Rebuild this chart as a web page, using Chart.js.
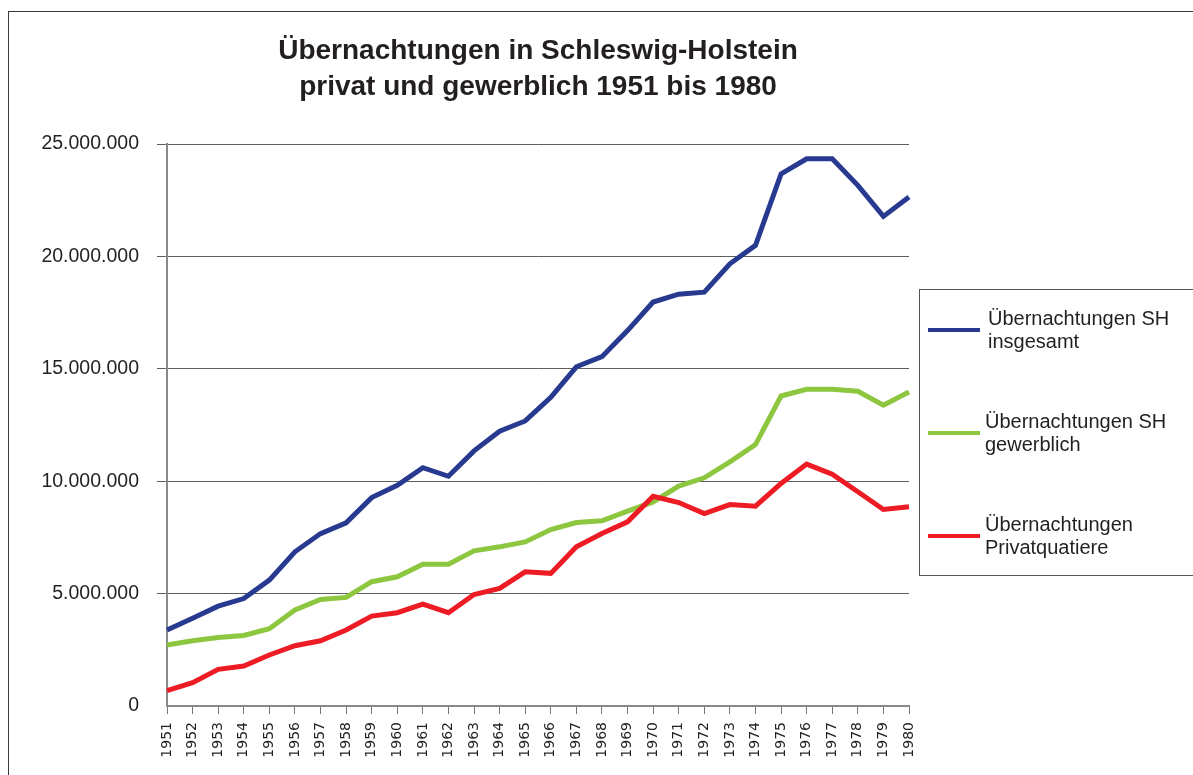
<!DOCTYPE html>
<html>
<head>
<meta charset="utf-8">
<script src="https://cdn.jsdelivr.net/npm/chart.js@4.4.0/dist/chart.umd.min.js"></script>
<style>
  html, body { margin: 0; padding: 0; background: #fff; }
  #wrap { width: 1193px; height: 775px; position: relative; }
</style>
</head>
<body>
<div id="wrap"><canvas id="uebernachtungChart" width="1193" height="775"></canvas></div>
<script>
const years = ['1951','1952','1953','1954','1955','1956','1957','1958','1959','1960',
  '1961','1962','1963','1964','1965','1966','1967','1968','1969','1970',
  '1971','1972','1973','1974','1975','1976','1977','1978','1979','1980'];

const insgesamt = [3380000, 3900000, 4440000, 4780000, 5600000, 6860000, 7670000, 8150000, 9270000, 9820000,
  10600000, 10220000, 11350000, 12220000, 12680000, 13730000, 15090000, 15540000, 16700000, 17970000,
  18320000, 18410000, 19670000, 20490000, 23670000, 24340000, 24340000, 23160000, 21780000, 22640000];

const gewerblich = [2710000, 2900000, 3050000, 3140000, 3440000, 4270000, 4740000, 4830000, 5530000, 5750000,
  6310000, 6310000, 6900000, 7080000, 7300000, 7850000, 8160000, 8240000, 8670000, 9080000,
  9780000, 10150000, 10860000, 11630000, 13790000, 14090000, 14090000, 14000000, 13380000, 13970000];

const privat = [680000, 1040000, 1630000, 1780000, 2270000, 2680000, 2900000, 3380000, 4000000, 4150000,
  4530000, 4150000, 4960000, 5230000, 5970000, 5900000, 7080000, 7670000, 8190000, 9330000,
  9050000, 8560000, 8960000, 8890000, 9900000, 10760000, 10310000, 9530000, 8740000, 8860000];

const seriesLabels = [
  ['Übernachtungen SH', 'insgesamt'],
  ['Übernachtungen SH', 'gewerblich'],
  ['Übernachtungen', 'Privatquatiere']
];
const titleLines = ['Übernachtungen in Schleswig-Holstein', 'privat und gewerblich 1951 bis 1980'];
const yTicks = [0, 5000000, 10000000, 15000000, 20000000, 25000000];

const textColor = '#231f20';
const arial = "'Liberation Sans', Arial, sans-serif";

function formatDE(v){
  return v.toString().replace(/\B(?=(\d{3})+(?!\d))/g, '.');
}

// frame around the whole graphic + white background
const framePlugin = {
  id: 'frame',
  beforeDraw(chart){
    const ctx = chart.ctx;
    ctx.save();
    ctx.fillStyle = '#fff';
    ctx.fillRect(0, 0, chart.width, chart.height);
    ctx.strokeStyle = '#3a3a3a';
    ctx.lineWidth = 1;
    ctx.strokeRect(8.5, 11.5, chart.width + 50, chart.height + 50);
    ctx.restore();
  }
};

// boxed legend on the right, two text lines per entry
const boxLegend = {
  id: 'boxLegend',
  afterDraw(chart){
    const ctx = chart.ctx;
    ctx.save();
    ctx.strokeStyle = '#555';
    ctx.lineWidth = 1;
    ctx.strokeRect(919.5, 289.5, 400, 286);
    ctx.font = '20px ' + arial;
    ctx.fillStyle = textColor;
    ctx.textBaseline = 'middle';
    ctx.textAlign = 'left';
    chart.data.datasets.forEach((ds, i) => {
      const y = 330 + i * 103;
      ctx.strokeStyle = ds.borderColor;
      ctx.lineWidth = 4;
      ctx.beginPath();
      ctx.moveTo(928, y);
      ctx.lineTo(980, y);
      ctx.stroke();
      const lines = ds.legendLines;
      const tx = i === 0 ? 988 : 985;
      ctx.fillText(lines[0], tx, y - 11);
      ctx.fillText(lines[1], tx, y + 12);
    });
    ctx.restore();
  }
};

const ctx = document.getElementById('uebernachtungChart').getContext('2d');
const chart = new Chart(ctx, {
  type: 'line',
  data: {
    labels: years,
    datasets: [
      { label: seriesLabels[0].join(' '), legendLines: seriesLabels[0], data: insgesamt,
        borderColor: '#283a90', borderWidth: 5, pointRadius: 0, fill: false, tension: 0, order: 0 },
      { label: seriesLabels[1].join(' '), legendLines: seriesLabels[1], data: gewerblich,
        borderColor: '#8dc63f', borderWidth: 5, pointRadius: 0, fill: false, tension: 0, order: 2 },
      { label: seriesLabels[2].join(' '), legendLines: seriesLabels[2], data: privat,
        borderColor: '#ed1c24', borderWidth: 5, pointRadius: 0, fill: false, tension: 0, order: 1 }
    ]
  },
  options: {
    responsive: false,
    animation: false,
    devicePixelRatio: 1,
    layout: { padding: { left: 0, right: 284, top: 0, bottom: 0 } },
    plugins: {
      legend: { display: false },
      tooltip: { enabled: false },
      title: {
        display: true,
        fullSize: false,
        text: titleLines,
        color: textColor,
        font: { family: arial, size: 28, weight: 'bold', lineHeight: 36 / 28 },
        padding: { top: 33, bottom: 39 }
      }
    },
    scales: {
      x: {
        offset: false,
        afterFit(scale){ scale.height = 69; },
        grid: { display: true, drawOnChartArea: false, drawTicks: true, tickLength: 8, color: '#777' },
        border: { display: true, color: '#8a8a8a', width: 2 },
        ticks: {
          autoSkip: false, minRotation: 90, maxRotation: 90, padding: 8,
          color: textColor, font: { family: "'DejaVu Sans', sans-serif", size: 14 }
        }
      },
      y: {
        min: 0,
        max: 25000000,
        afterFit(scale){ scale.width = 167; },
        afterBuildTicks(scale){ scale.ticks = yTicks.map(v => ({ value: v })); },
        grid: {
          color: c => (c.tick && c.tick.value === 0) ? 'rgba(0,0,0,0)' : '#5e5e5e',
          lineWidth: 1, tickLength: 10
        },
        border: { display: true, color: '#8a8a8a', width: 2 },
        ticks: {
          padding: 18, color: textColor,
          font: { family: arial, size: 19.5 },
          callback: v => formatDE(v)
        }
      }
    }
  },
  plugins: [framePlugin, boxLegend]
});
</script>
</body>
</html>
